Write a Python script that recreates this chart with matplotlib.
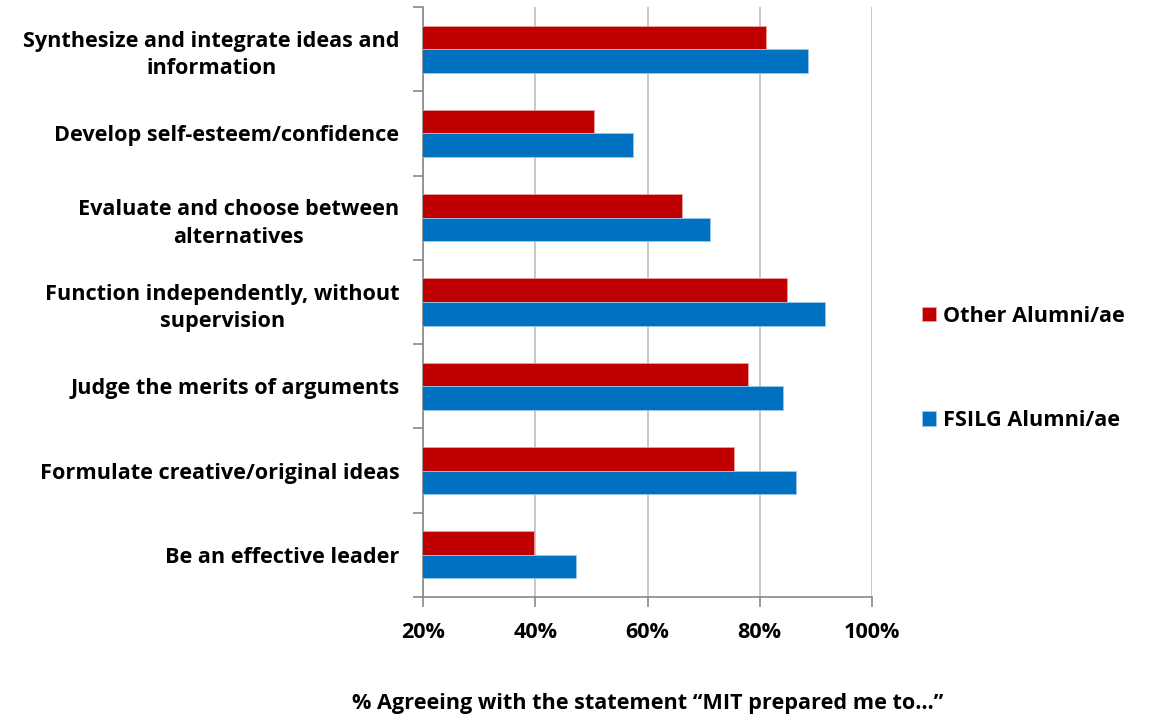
import matplotlib.pyplot as plt
import numpy as np
from matplotlib.ticker import FixedLocator, FuncFormatter

# categories top to bottom
categories = ['Synthesize and integrate ideas and\ninformation',
              'Develop self-esteem/confidence',
              'Evaluate and choose between\nalternatives',
              'Function independently, without\nsupervision',
              'Judge the merits of arguments',
              'Formulate creative/original ideas',
              'Be an effective leader']
other_alumni = [81.2, 50.5, 66.2, 84.9, 77.9, 75.4, 39.8]
fsilg_alumni = [88.6, 57.5, 71.2, 91.6, 84.1, 86.4, 47.2]
x_ticks = [20, 40, 60, 80, 100]

red = '#C00000'
blue = '#0070C0'
fs = 15.6

plt.rcParams['font.family'] = ['Open Sans', 'DejaVu Sans']
plt.rcParams['font.weight'] = 'bold'

fig = plt.figure(figsize=(11.49, 7.17), dpi=100)
ax = fig.add_axes([423 / 1149, 1 - 597 / 717, 449 / 1149, 590 / 717])

y = np.arange(len(categories))
h = 0.28
ax.barh(y - h / 2, other_alumni, height=h, left=0, color=red,
        edgecolor='#E8A0A0', linewidth=0.6, label='Other Alumni/ae', zorder=3)
ax.barh(y + h / 2, fsilg_alumni, height=h, left=0, color=blue,
        edgecolor='#9CC8EA', linewidth=0.6, label='FSILG Alumni/ae', zorder=3)

ax.set_xlim(20, 100)
ax.set_ylim(len(categories) - 0.5, -0.5)

ax.set_xticks(x_ticks)
ax.xaxis.set_major_formatter(FuncFormatter(lambda v, p: '%d%%' % v))
ax.grid(axis='x', color='#BEBEBE', linewidth=1.2, zorder=0)

ax.set_yticks(y)
ax.set_yticklabels(categories, fontsize=fs, fontweight='bold',
                   linespacing=1.4)
for t in ax.get_yticklabels():
    t.set_multialignment('center')
ax.yaxis.set_minor_locator(FixedLocator(np.arange(-0.5, len(categories), 1)))
ax.tick_params(axis='y', which='major', length=0, pad=17)
ax.tick_params(axis='y', which='minor', length=7, color='#888888', width=1.2)
ax.tick_params(axis='x', length=7, color='#888888', width=1.2,
               labelsize=fs, pad=11)
for t in ax.get_xticklabels():
    t.set_fontweight('bold')

for s in ['top', 'right']:
    ax.spines[s].set_visible(False)
for s in ['left', 'bottom']:
    ax.spines[s].set_color('#888888')
    ax.spines[s].set_linewidth(1.2)

ax.set_xlabel('% Agreeing with the statement \u201cMIT prepared me to\u2026\u201d',
              fontsize=fs, fontweight='bold', labelpad=36)

leg = ax.legend(loc='upper left', bbox_to_anchor=(902 / 1149, 1 - 286 / 717),
                bbox_transform=fig.transFigure, frameon=False,
                fontsize=fs, handlelength=0.65, handleheight=0.65,
                handletextpad=0.35, labelspacing=3.85)
for t in leg.get_texts():
    t.set_fontweight('bold')

fig.savefig('out.png', dpi=100)
